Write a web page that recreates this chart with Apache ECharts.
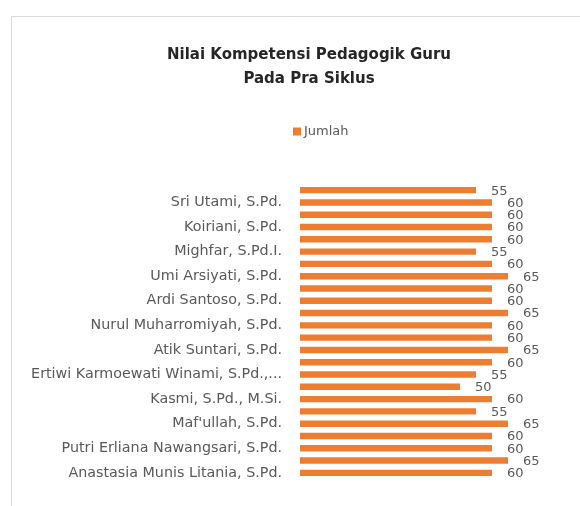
<!DOCTYPE html>
<html><head><meta charset="utf-8">
<script src="https://cdn.jsdelivr.net/npm/echarts@6/dist/echarts.min.js"></script>
<style>html,body{margin:0;padding:0;background:#fff}#c{width:580px;height:506px}</style>
</head><body><div id="c"></div>
<script>
// categories bottom -> top (Excel order); unreadable hidden names left blank
var categories = [
  'Anastasia Munis Litania, S.Pd.', '',
  'Putri Erliana Nawangsari, S.Pd.', '',
  "Maf'ullah, S.Pd.", '',
  'Kasmi, S.Pd., M.Si.', '',
  'Ertiwi Karmoewati Winami, S.Pd.,...', '',
  'Atik Suntari, S.Pd.', '',
  'Nurul Muharromiyah, S.Pd.', '',
  'Ardi Santoso, S.Pd.', '',
  'Umi Arsiyati, S.Pd.', '',
  'Mighfar, S.Pd.I.', '',
  'Koiriani, S.Pd.', '',
  'Sri Utami, S.Pd.', ''
];
// values bottom -> top
var jumlah = [60, 65, 60, 60, 65, 55, 60, 50, 55, 60, 65, 60, 60, 65, 60, 60, 65, 60, 55, 60, 60, 60, 60, 55];
var titleText = 'Nilai Kompetensi Pedagogik Guru\nPada Pra Siklus';
var seriesName = 'Jumlah';

var chart = echarts.init(document.getElementById('c'), null, {renderer: 'canvas'});
chart.setOption({
  backgroundColor: '#fff',
  animation: false,
  graphic: [{
    type: 'polyline', silent: true,
    shape: {points: [[11.5, 506], [11.5, 16.5], [580, 16.5]]},
    style: {stroke: '#d9d9d9', fill: null, lineWidth: 1}
  }],
  title: {
    text: titleText, left: 304, top: 38, textAlign: 'center',
    textStyle: {fontFamily: 'DejaVu Sans', fontSize: 15, fontWeight: 'bold', color: '#262626', lineHeight: 24}
  },
  legend: {
    data: [seriesName], left: 288, top: 120, itemWidth: 8, itemHeight: 8, itemGap: 4,
    icon: 'rect',
    textStyle: {fontFamily: 'DejaVu Sans', fontSize: 13, color: '#595959', padding: [0,0,0,-2]}
  },
  grid: {left: 300, right: 56, top: 184, bottom: 27, containLabel: false},
  xAxis: {type: 'value', min: 0, max: 70, show: false},
  yAxis: {
    type: 'category', data: categories,
    axisLine: {show: false}, axisTick: {show: false},
    axisLabel: {interval: 0, fontFamily: 'DejaVu Sans', fontSize: 14.3, color: '#595959', margin: 18}
  },
  series: [{
    name: seriesName, type: 'bar', data: jumlah,
    barCategoryGap: '48%',
    itemStyle: {color: '#ED7D31'},
    label: {show: true, position: 'right', distance: 15, offset: [0, 1],
      fontFamily: 'DejaVu Sans', fontSize: 13, color: '#595959'}
  }]
});
</script></body></html>
